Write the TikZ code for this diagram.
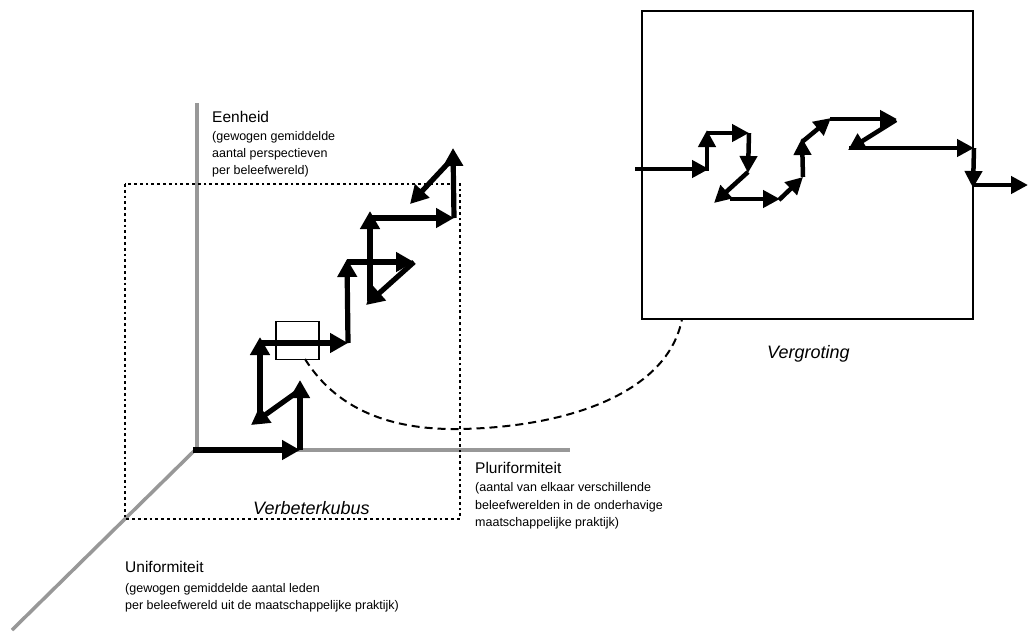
\documentclass[tikz,border=0pt]{standalone}
\usepackage{fontspec}
\setmainfont{Liberation Sans}
\usetikzlibrary{arrows.meta}
\definecolor{axisgray}{RGB}{152,152,152}
\begin{document}
\begin{tikzpicture}[x=1pt,y=-1pt,
  axis/.style={line width=3.5pt, draw=axisgray},
  flow/.style={line width=5.2pt, -{Triangle[length=18pt,width=19pt]}},
  zflow/.style={line width=4.5pt, -{Triangle[length=17pt,width=17pt]}},
  head/.style={anchor=base west, inner sep=0pt, font=\fontsize{15.5}{18}\selectfont},
  sub/.style={anchor=base west, inner sep=0pt, font=\fontsize{12.5}{16}\selectfont},
  caption/.style={anchor=base west, inner sep=0pt, font=\fontsize{18}{21}\selectfont\itshape},
  frame/.style={draw, rectangle, inner sep=0pt},
]
\useasboundingbox (0,0) rectangle (1028,633);

% axes of the cube
\coordinate (origin) at (193,450);
\coordinate (ytop) at (197,103);
\coordinate (ybot) at (197,451);
\coordinate (xend) at (570,450);
\coordinate (zend) at (12,630);
\coordinate (zstart) at (194,451);
\draw[axis] (ybot) -- (ytop);
\draw[axis] (origin) -- (xend);
\draw[axis] (zstart) -- (zend);

% dotted cube outline
\coordinate (cubeA) at (125,184);
\coordinate (cubeB) at (460,519);
\draw[line width=2.6pt, dash pattern=on 2.8pt off 3pt] (cubeA) rectangle (cubeB);

% axis labels
\node[head] (eenheid) at (212,122.5) {Eenheid};
\node[sub] (eenheid1) at (212,140) {(gewogen gemiddelde};
\node[sub] (eenheid2) at (212,157) {aantal perspectieven};
\node[sub] (eenheid3) at (212,174) {per beleefwereld)};

\node[head] (pluri) at (475,473) {Pluriformiteit};
\node[sub] (pluri1) at (475,491) {(aantal van elkaar verschillende};
\node[sub] (pluri2) at (475,509) {beleefwerelden in de onderhavige};
\node[sub] (pluri3) at (475,526) {maatschappelijke praktijk)};

\node[head] (uni) at (125,572) {Uniformiteit};
\node[sub] (uni1) at (125,592) {(gewogen gemiddelde aantal leden};
\node[sub] (uni2) at (125,609) {per beleefwereld uit de maatschappelijke praktijk)};

\node[caption] (kubus) at (253,514) {Verbeterkubus};
\node[caption] (vergroting) at (767,358) {Vergroting};

% improvement path inside the cube
\coordinate (a0) at (193,450);
\coordinate (a1) at (300,450);
\coordinate (a2) at (300,380);
\coordinate (a3s) at (300,390);
\coordinate (a3) at (251,425);
\coordinate (a4s) at (260,418);
\coordinate (a4) at (260,337);
\coordinate (a5s) at (260,343);
\coordinate (a5) at (348,343);
\coordinate (a6) at (347,259);
\coordinate (a7s) at (347,262);
\coordinate (a7) at (414,262);
\coordinate (a8) at (366,305);
\coordinate (a9s) at (370,301);
\coordinate (a9) at (370,211);
\coordinate (a10s) at (370,218);
\coordinate (a10) at (454,218);
\coordinate (a11) at (453,148);
\coordinate (a12s) at (453,158);
\coordinate (a12) at (410,204);
\draw[flow] (a0) -- (a1);
\draw[flow] (a1) -- (a2);
\draw[flow] (a3s) -- (a3);
\draw[flow] (a4s) -- (a4);
\draw[flow] (a5s) -- (a5);
\draw[flow] (a5) -- (a6);
\draw[flow] (a7s) -- (a7);
\draw[flow] (a7) -- (a8);
\draw[flow] (a9s) -- (a9);
\draw[flow] (a10s) -- (a10);
\draw[flow] (a10) -- (a11);
\draw[flow] (a12s) -- (a12);

% small window and its enlarged view
\node[frame, line width=1.2pt, minimum width=43pt, minimum height=38pt] (window) at (297.5,340.5) {};
\node[frame, line width=1.4pt, minimum width=331pt, minimum height=308pt] (zoomview) at (807.5,165) {};

% dashed link between window and enlargement
\coordinate (lstart) at (305,359);
\coordinate (lc1) at (340,415);
\coordinate (lc2) at (400,430);
\coordinate (lmid) at (460,429);
\coordinate (lc3) at (570,427);
\coordinate (lc4) at (668,392);
\coordinate (lend) at (682,319);
\draw[line width=2pt, dash pattern=on 8pt off 5pt]
  (lstart) .. controls (lc1) and (lc2) .. (lmid)
           .. controls (lc3) and (lc4) .. (lend);

% enlarged path
\coordinate (b0) at (635,169);
\coordinate (b1) at (709,169);
\coordinate (b1s) at (707,171);
\coordinate (b2) at (707,130);
\coordinate (b3s) at (707,133);
\coordinate (b3) at (749,133);
\coordinate (b4) at (748,173);
\coordinate (b5s) at (748,172);
\coordinate (b5) at (714,203);
\coordinate (b6s) at (730,199);
\coordinate (b6) at (780,199);
\coordinate (b7s) at (779,200);
\coordinate (b7) at (803,177);
\coordinate (b8) at (802,138);
\coordinate (b9s) at (802,142);
\coordinate (b9) at (831,118);
\coordinate (b10s) at (830,119);
\coordinate (b10) at (897,119);
\coordinate (b11s) at (896,120);
\coordinate (b11) at (848,150);
\coordinate (b12s) at (849,148);
\coordinate (b12) at (974,148);
\coordinate (b13) at (973,188);
\coordinate (b14s) at (973,185);
\coordinate (b14) at (1028,185);
\draw[zflow] (b0) -- (b1);
\draw[zflow] (b1s) -- (b2);
\draw[zflow] (b3s) -- (b3);
\draw[zflow] (b3) -- (b4);
\draw[zflow] (b5s) -- (b5);
\draw[zflow] (b6s) -- (b6);
\draw[zflow] (b7s) -- (b7);
\draw[zflow] (b7) -- (b8);
\draw[zflow] (b9s) -- (b9);
\draw[zflow] (b10s) -- (b10);
\draw[zflow] (b11s) -- (b11);
\draw[zflow] (b12s) -- (b12);
\draw[zflow] (b12) -- (b13);
\draw[zflow] (b14s) -- (b14);
\end{tikzpicture}
\end{document}
